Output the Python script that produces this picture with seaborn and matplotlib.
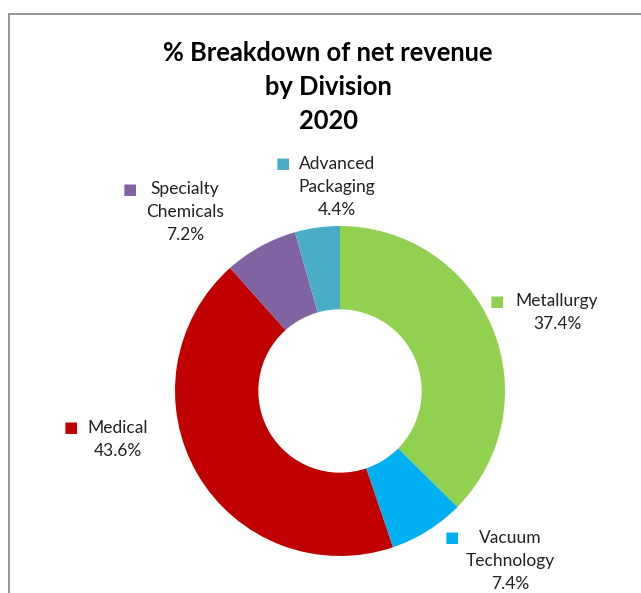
import matplotlib
matplotlib.use("Agg")
import matplotlib.pyplot as plt
import seaborn as sns
from matplotlib.patches import Rectangle

# --- data ---
divisions = ["Metallurgy", "Vacuum\nTechnology", "Medical", "Specialty\nChemicals", "Advanced\nPackaging"]
shares = [37.4, 7.4, 43.6, 7.2, 4.4]
colors = ["#92D050", "#00B0F0", "#C00000", "#8064A2", "#4BACC6"]

# label anchors (px in a 641x593 canvas): square x, text centre x, first line y
label_pos = [(497, 557, 301), (452, 510, 538), (71, 118, 428), (130, 185, 189), (283, 337, 164)]

W, H = 641, 593
sns.set_theme(style="white")
plt.rcParams["font.family"] = ["Lato", "DejaVu Sans"]

fig = plt.figure(figsize=(W / 100, H / 100), dpi=100)
fig.patch.set_facecolor("white")

# donut: centre (340, 391) px, outer radius 165 px
cx, cy, r = 340, 391, 165
ax = fig.add_axes([(cx - r) / W, (H - cy - r) / H, 2 * r / W, 2 * r / H])
ax.pie(shares, colors=sns.color_palette(colors), startangle=90, counterclock=False,
       radius=1, wedgeprops=dict(width=0.505, linewidth=0))
ax.set_xlim(-1, 1)
ax.set_ylim(-1, 1)
ax.axis("off")

# chart frame (cut off on right and bottom)
fig.patches.append(Rectangle((9 / W, -0.1), 1.2, (H - 14) / H + 0.1, transform=fig.transFigure,
                             fill=False, edgecolor="#8c8c8c", linewidth=1.3))

# title
for i, line in enumerate(["% Breakdown of net revenue", "by Division", "2020"]):
    fig.text(328 / W, 1 - (53 + 34 * i) / H, line, ha="center", va="center",
             fontsize=18.4, fontweight="bold", color="black")

# labels
for name, pct, col, (sx, tx, ty) in zip(divisions, shares, colors, label_pos):
    lines = name.split("\n") + [f"{pct:.1f}%"]
    fig.text(sx / W, 1 - ty / H, "■", color=col, ha="center", va="center", fontsize=11,
             family="DejaVu Sans")
    for j, t in enumerate(lines):
        fig.text(tx / W, 1 - (ty + 23 * j) / H, t, ha="center", va="center",
                 fontsize=12.5, color="#222222")

fig.savefig("out.png", dpi=100)
